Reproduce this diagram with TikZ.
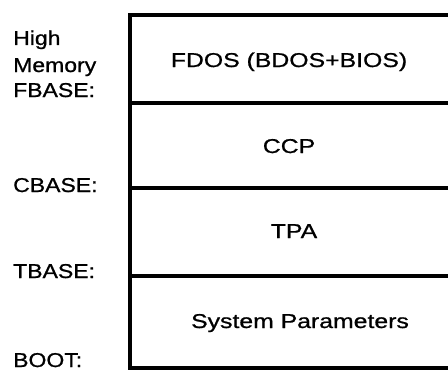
\documentclass[tikz,border=0pt]{standalone}
\usepackage{fontspec}
\setmainfont{Liberation Sans}
\newfontfamily\boxfont[FakeStretch=1.24,FakeBold=0.9]{Liberation Sans}
\newfontfamily\labfont[FakeStretch=1.15,FakeBold=0.9]{Liberation Sans}
\begin{document}
\begin{tikzpicture}[x=1pt,y=-1pt,
  rowtext/.style={font=\boxfont\fontsize{20}{24}\selectfont, inner sep=0pt, anchor=base},
  addr/.style={font=\labfont\fontsize{20}{24}\selectfont, anchor=base west, inner sep=0pt},
  wall/.style={line width=3.2pt}]
\useasboundingbox (0,0) rectangle (448,372);
% outer box (open on the right)
\coordinate (tr) at (452,15);
\coordinate (tl) at (130,15);
\coordinate (bl) at (130,368);
\coordinate (br) at (452,368);
\draw[wall] (tr) -- (tl) -- (bl) -- (br);
% dividers
\coordinate (d1l) at (130,103);  \coordinate (d1r) at (452,103);
\coordinate (d2l) at (130,188);  \coordinate (d2r) at (452,188);
\coordinate (d3l) at (130,276);  \coordinate (d3r) at (452,276);
\draw[wall] (d1l) -- (d1r);
\draw[wall] (d2l) -- (d2r);
\draw[wall] (d3l) -- (d3r);
% row texts
\node[rowtext] (fdos) at (289,67) {FDOS (BDOS+BIOS)};
\node[rowtext] (ccp) at (289,153) {CCP};
\node[rowtext] (tpa) at (294,238) {TPA};
\node[rowtext] (sys) at (300,328) {System Parameters};
% address labels
\node[addr] (high) at (13,45) {High};
\node[addr] (mem) at (13,72) {Memory};
\node[addr] (fbase) at (13,97) {FBASE:};
\node[addr] (cbase) at (13,192) {CBASE:};
\node[addr] (tbase) at (13,278) {TBASE:};
\node[addr] (boot) at (13,367) {BOOT:};
\end{tikzpicture}
\end{document}
